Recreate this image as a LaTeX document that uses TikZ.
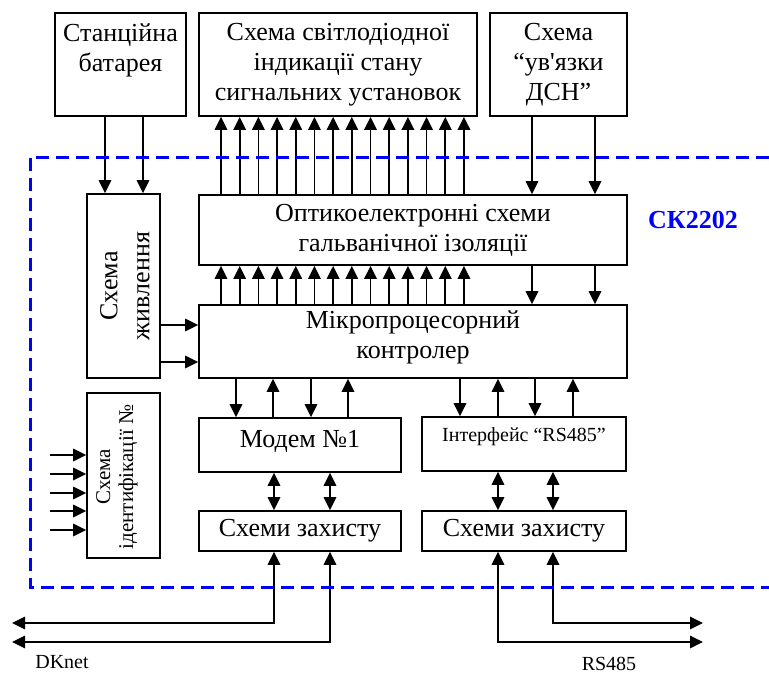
\documentclass[tikz,border=0pt]{standalone}
\usepackage{fontspec}
\setmainfont{Liberation Serif}
\usetikzlibrary{arrows.meta}
\begin{document}
\begin{tikzpicture}[x=1pt,y=-1pt,
  box/.style={draw, line width=1.8pt, inner sep=0pt, align=center, font=\fontsize{26}{30}\selectfont},
  txt/.style={align=center, inner sep=0pt, font=\fontsize{26}{30}\selectfont},
  arr/.style={line width=1.7pt, -{Triangle[length=13pt,width=12.5pt]}},
  dbl/.style={line width=1.7pt, {Triangle[length=13pt,width=12.5pt]}-{Triangle[length=13pt,width=12.5pt]}}]
\useasboundingbox (0,0) rectangle (769,675);

% boxes
\node[box, minimum width=131pt, minimum height=103pt] (bat) at (120.5,64.5) {};
\node[txt] (batT) at (120.5,50) {Станційна\\батарея};
\node[box, minimum width=278pt, minimum height=103pt] (led) at (338,64.5) {Схема світлодіодної\\індикації стану\\сигнальних установок};
\node[box, minimum width=137pt, minimum height=103pt] (dsn) at (558.5,64.5) {Схема\\“ув\textquotesingle язки\\ДСН”};
\node[box, minimum width=73pt, minimum height=184pt] (pwr) at (123.5,286) {};
\node[txt, rotate=90, font=\fontsize{26}{32}\selectfont] (pwrT) at (125,286) {Схема\\живлення};
\node[box, minimum width=428pt, minimum height=70pt] (opto) at (413,230) {Оптикоелектронні схеми\\гальванічної ізоляції};
\node[box, minimum width=428pt, minimum height=73pt] (mcu) at (413,341.5) {};
\node[txt] (mcuT) at (413,337) {Мікропроцесорний\\контролер};
\node[box, minimum width=73pt, minimum height=165pt] (idn) at (123.5,475.5) {};
\node[txt, rotate=90, font=\fontsize{21}{23}\selectfont] (idnT) at (117,477) {Схема\\ідентифікації №};
\node[box, minimum width=202pt, minimum height=54pt] (modem) at (300,445) {};
\node[txt] (modemT) at (300,441) {Модем №1};
\node[box, minimum width=204pt, minimum height=54pt] (rs) at (524,444) {};
\node[txt, font=\fontsize{20}{24}\selectfont] (rsT) at (524,437) {Інтерфейс “RS485”};
\node[box, minimum width=202pt, minimum height=40pt] (prL) at (300,531) {Схеми захисту};
\node[box, minimum width=204pt, minimum height=40pt] (prR) at (524,531) {Схеми захисту};

% labels
\node[txt, text=blue, font=\fontsize{26}{30}\selectfont\bfseries] (sk) at (693,220) {СК2202};
\node[txt, font=\fontsize{20}{24}\selectfont] (dkL) at (62,662) {DKnet};
\node[txt, font=\fontsize{20}{24}\selectfont] (rsL) at (609,664) {RS485};

% arrows between LED / opto / mcu
\foreach \i [evaluate=\i as \x using 221+18.69*\i] in {0,...,13} {
  \draw[arr] (\x,0 |- opto.north) -- (\x,0 |- led.south);
  \draw[arr] (\x,0 |- mcu.north) -- (\x,0 |- opto.south);
}
% battery -> power
\foreach \x in {105,143} \draw[arr] (\x,0 |- bat.south) -- (\x,0 |- pwr.north);
% DSN -> opto -> mcu
\foreach \x in {532,595} {
  \draw[arr] (\x,0 |- dsn.south) -- (\x,0 |- opto.north);
  \draw[arr] (\x,0 |- opto.south) -- (\x,0 |- mcu.north);
}
% power -> mcu
\foreach \y in {325,362} \draw[arr] (pwr.east |- 0,\y) -- (mcu.west |- 0,\y);
% mcu <-> modem
\foreach \x in {236,311} \draw[arr] (\x,0 |- mcu.south) -- (\x,0 |- modem.north);
\foreach \x in {273,348} \draw[arr] (\x,0 |- modem.north) -- (\x,0 |- mcu.south);
% mcu <-> rs485
\foreach \x in {460,535} \draw[arr] (\x,0 |- mcu.south) -- (\x,0 |- rs.north);
\foreach \x in {498,573} \draw[arr] (\x,0 |- rs.north) -- (\x,0 |- mcu.south);
% modem/rs <-> protection
\foreach \x in {274,330} \draw[dbl] (\x,0 |- modem.south) -- (\x,0 |- prL.north);
\foreach \x in {498,553} \draw[dbl] (\x,0 |- rs.south) -- (\x,0 |- prR.north);
% identification inputs
\foreach \y [count=\k] in {455,474,493,511,530} {
  \coordinate (in\k) at (50,\y);
  \draw[arr] (in\k) -- (idn.west |- in\k);
}
% external lines
\coordinate (dk1) at (12,623);
\coordinate (dk2) at (12,642);
\coordinate (rs1) at (703,623);
\coordinate (rs2) at (703,642);
\draw[dbl] (274,0 |- prL.south) |- (dk1);
\draw[dbl] (330,0 |- prL.south) |- (dk2);
\draw[dbl] (498,0 |- prR.south) |- (rs2);
\draw[dbl] (553,0 |- prR.south) |- (rs1);

% dashed device border
\coordinate (bTR) at (769,157);
\coordinate (bTL) at (30,157);
\coordinate (bBL) at (30,587);
\coordinate (bBR) at (769,587);
\draw[blue, line width=3pt, dash pattern=on 13pt off 7pt] (bTR) -- (bTL) -- (bBL) -- (bBR);
\end{tikzpicture}
\end{document}
